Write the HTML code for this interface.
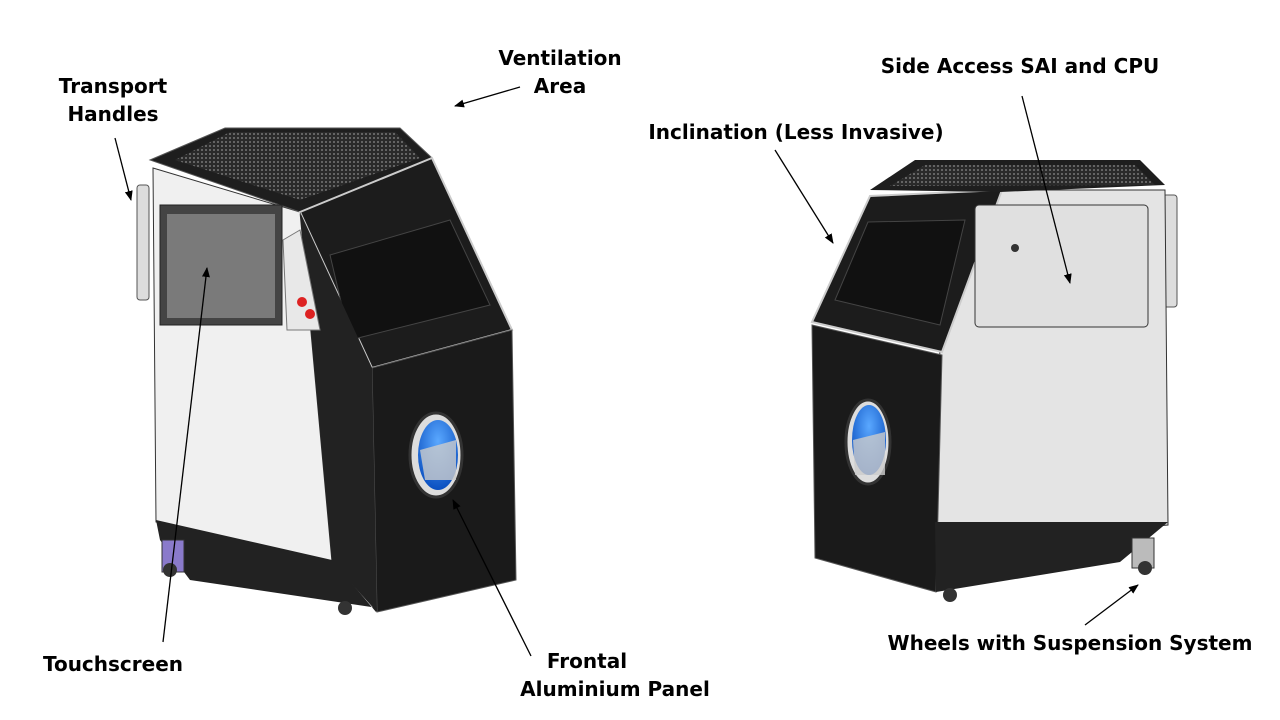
<!DOCTYPE html>
<html><head><meta charset="utf-8"><style>
html,body{margin:0;padding:0;background:#fff;}
svg{display:block;}
text{font-family:"DejaVu Sans","Liberation Sans",sans-serif;font-weight:bold;font-size:20px;fill:#000;}
</style></head><body>
<svg width="1280" height="720" viewBox="0 0 1280 720">
<defs>
<marker id="a" markerWidth="10" markerHeight="10" refX="9" refY="5" orient="auto" markerUnits="userSpaceOnUse">
<path d="M0,1 L10,5 L0,9 z" fill="#000"/></marker>
<pattern id="g" width="4" height="4" patternUnits="userSpaceOnUse"><rect width="4" height="4" fill="#2a2a2a"/><circle cx="2" cy="2" r="1" fill="#777"/></pattern>
<radialGradient id="b" cx="0.5" cy="0.3" r="0.7"><stop offset="0" stop-color="#5aa8ff"/><stop offset="1" stop-color="#0a4fc0"/></radialGradient>
</defs>

<!-- LEFT MACHINE -->
<rect x="137" y="185" width="12" height="115" rx="3" fill="#ddd" stroke="#555"/>
<polygon points="153,168 300,212 332,562 156,522" fill="#f0f0f0" stroke="#333"/>
<polygon points="156,520 332,560 376,612 378,608 190,580 160,540" fill="#222"/>
<polygon points="150,160 225,128 400,128 432,158 300,212" fill="#1e1e1e" stroke="#555"/>
<polygon points="175,160 230,132 395,132 420,158 300,200" fill="url(#g)"/>
<polygon points="300,212 432,158 512,330 372,368" fill="#1c1c1c" stroke="#ccc" stroke-width="2"/>
<polygon points="330,255 450,220 490,305 350,340" fill="#111" stroke="#444"/>
<polygon points="372,368 512,330 516,580 377,612" fill="#1a1a1a" stroke="#555"/>
<polygon points="300,212 372,368 377,612 332,562" fill="#222"/>
<rect x="160" y="205" width="122" height="120" fill="#444" stroke="#222"/>
<rect x="167" y="214" width="108" height="104" fill="#7a7a7a"/>
<polygon points="283,240 300,230 320,330 287,330" fill="#e8e8e8" stroke="#777"/>
<circle cx="302" cy="302" r="5" fill="#d22"/><circle cx="310" cy="314" r="5" fill="#d22"/>
<ellipse cx="436" cy="455" rx="26" ry="42" fill="#ddd" stroke="#333" stroke-width="3"/>
<ellipse cx="438" cy="455" rx="20" ry="35" fill="url(#b)"/>
<polygon points="420,450 456,440 456,480 425,480" fill="#ccc" opacity="0.8"/>
<rect x="162" y="540" width="22" height="32" fill="#8a7acb" stroke="#333"/>
<circle cx="170" cy="570" r="7" fill="#333"/><circle cx="345" cy="608" r="7" fill="#333"/>

<!-- RIGHT MACHINE -->
<rect x="1163" y="195" width="14" height="112" rx="3" fill="#ddd" stroke="#555"/>
<polygon points="940,345 1000,190 1165,190 1168,525 935,545" fill="#e4e4e4" stroke="#333"/>
<polygon points="812,322 870,196 1002,190 942,352" fill="#1c1c1c" stroke="#ccc" stroke-width="2"/>
<polygon points="835,300 868,222 965,220 940,325" fill="#111" stroke="#444"/>
<polygon points="870,190 915,160 1140,160 1165,185 1000,192" fill="#1e1e1e"/>
<polygon points="890,186 925,165 1135,165 1155,185" fill="url(#g)"/>
<polygon points="812,325 942,355 936,592 815,558" fill="#1a1a1a" stroke="#555"/>
<polygon points="935,522 1168,522 1120,562 936,592" fill="#222"/>
<rect x="975" y="205" width="173" height="122" rx="4" fill="#e0e0e0" stroke="#333"/>
<circle cx="1015" cy="248" r="4" fill="#333"/>
<ellipse cx="868" cy="442" rx="22" ry="42" fill="#ddd" stroke="#333" stroke-width="3"/>
<ellipse cx="869" cy="440" rx="17" ry="35" fill="url(#b)"/>
<polygon points="853,440 885,432 885,475 855,475" fill="#ccc" opacity="0.8"/>
<rect x="1132" y="538" width="22" height="30" fill="#bbb" stroke="#333"/>
<circle cx="1145" cy="568" r="7" fill="#333"/><circle cx="950" cy="595" r="7" fill="#333"/>

<!-- LABELS -->
<text x="113" y="93" text-anchor="middle">Transport</text>
<text x="113" y="121" text-anchor="middle">Handles</text>
<text x="560" y="65" text-anchor="middle">Ventilation</text>
<text x="560" y="93" text-anchor="middle">Area</text>
<text x="1020" y="73" text-anchor="middle">Side Access SAI and CPU</text>
<text x="796" y="139" text-anchor="middle">Inclination (Less Invasive)</text>
<text x="113" y="671" text-anchor="middle">Touchscreen</text>
<text x="587" y="668" text-anchor="middle">Frontal</text>
<text x="615" y="696" text-anchor="middle">Aluminium Panel</text>
<text x="1070" y="650" text-anchor="middle">Wheels with Suspension System</text>

<g stroke="#000" stroke-width="1.3" fill="none" marker-end="url(#a)">
<line x1="115" y1="138" x2="131" y2="200"/>
<line x1="520" y1="87" x2="455" y2="106"/>
<line x1="1022" y1="96" x2="1070" y2="283"/>
<line x1="775" y1="150" x2="833" y2="243"/>
<line x1="163" y1="642" x2="207" y2="268"/>
<line x1="531" y1="656" x2="453" y2="500"/>
<line x1="1085" y1="625" x2="1138" y2="585"/>
</g>
</svg>
</body></html>
